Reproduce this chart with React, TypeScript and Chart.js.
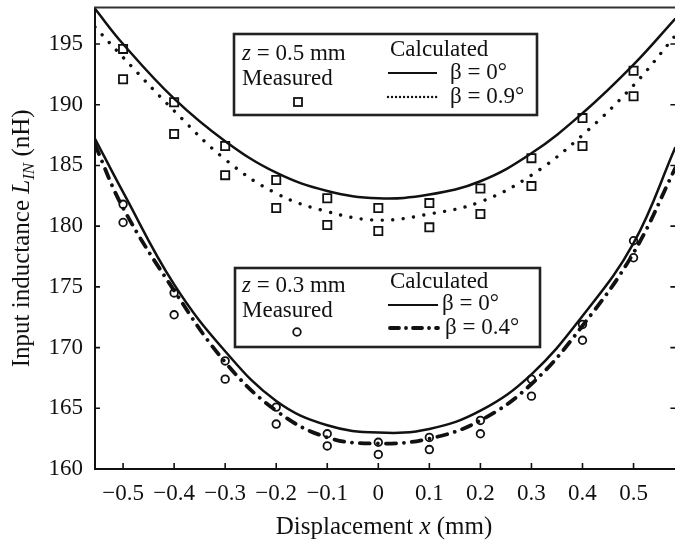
import React, { useEffect, useRef } from "react";
import { Chart, registerables } from "chart.js";

Chart.register(...registerables);

const FONT = '"Liberation Serif", "Times New Roman", serif';
const INK = "#111";

// Axis ranges and ticks
const xMin = -0.555;
const xMax = 0.582;
const yMin = 160;
const yMax = 198;
const xTicks = [-0.5, -0.4, -0.3, -0.2, -0.1, 0, 0.1, 0.2, 0.3, 0.4, 0.5];
const yTicks = [160, 165, 170, 175, 180, 185, 190, 195];

// Measured points (two measurements per displacement)
const measX = [-0.5, -0.4, -0.3, -0.2, -0.1, 0, 0.1, 0.2, 0.3, 0.4, 0.5];
const meas05a = [194.6, 190.2, 186.6, 183.8, 182.3, 181.5, 181.9, 183.1, 185.6, 188.9, 192.8];
const meas05b = [192.1, 187.6, 184.2, 181.5, 180.1, 179.6, 179.9, 181.0, 183.3, 186.6, 190.7];
const meas03a = [181.8, 174.5, 168.9, 165.1, 162.9, 162.2, 162.6, 164.0, 167.4, 171.9, 178.8];
const meas03b = [180.3, 172.7, 167.4, 163.7, 161.9, 161.2, 161.6, 162.9, 166.0, 170.6, 177.4];

// Calculated curves
const curveX = [-0.555, -0.5, -0.4, -0.3, -0.2, -0.1, 0, 0.1, 0.2, 0.3, 0.4, 0.5, 0.582];
const calc05b0 = [197.9, 195.0, 190.5, 187.0, 184.4, 182.9, 182.3, 182.6, 183.7, 186.0, 189.3, 193.3, 197.1];
const calc05b09 = [196.4, 193.9, 189.5, 185.5, 182.7, 181.2, 180.5, 181.0, 182.0, 184.2, 187.5, 191.6, 195.7];
const calc03b0 = [187.2, 182.8, 175.2, 169.7, 165.6, 163.6, 163.0, 163.3, 164.8, 167.8, 172.6, 178.6, 186.5];
const calc03b04 = [186.7, 181.5, 174.7, 168.8, 164.8, 162.6, 162.1, 162.5, 164.0, 167.0, 171.8, 177.8, 184.8];

const DOTTED = [0.01, 10.5];
const DASHDOT = [10, 8, 0.01, 8];

const PLOT_RIGHT = 675;

const pts = (xs: number[], ys: number[]) => xs.map((x, i) => ({ x, y: ys[i] }));

type Part = { t: string; italic?: boolean; sub?: boolean };

function drawRich(ctx: CanvasRenderingContext2D, parts: Part[], x: number, y: number, size: number, align: "left" | "center") {
  const fontOf = (p: Part) => `${p.italic ? "italic " : ""}${p.sub ? Math.round(size * 0.68) : size}px ${FONT}`;
  let total = 0;
  const widths = parts.map((p) => {
    ctx.font = fontOf(p);
    const w = ctx.measureText(p.t).width;
    total += w;
    return w;
  });
  let cx = align === "center" ? x - total / 2 : x;
  ctx.textBaseline = "middle";
  ctx.textAlign = "left";
  parts.forEach((p, i) => {
    ctx.font = fontOf(p);
    ctx.fillText(p.t, cx, p.sub ? y + size * 0.3 : y);
    cx += widths[i];
  });
}

export default function App() {
  const ref = useRef<HTMLCanvasElement>(null);

  useEffect(() => {
    const canvas = ref.current;
    if (!canvas) return;

    const fmt = (v: number) => (v === 0 ? "0" : v < 0 ? "\u2212" + Math.abs(v).toFixed(1) : v.toFixed(1));

    const decor = {
      id: "decor",
      afterDraw(chart: any) {
        const ctx: CanvasRenderingContext2D = chart.ctx;
        const { left, right, top, bottom } = chart.chartArea;
        const xs = chart.scales.x;
        const ys = chart.scales.y;
        ctx.save();
        ctx.strokeStyle = INK;
        ctx.fillStyle = INK;
        ctx.lineWidth = 1.6;
        ctx.setLineDash([]);
        // inward ticks
        ctx.beginPath();
        xTicks.forEach((v) => {
          const px = xs.getPixelForValue(v);
          ctx.moveTo(px, bottom);
          ctx.lineTo(px, bottom - 6);
        });
        yTicks.forEach((v) => {
          const py = ys.getPixelForValue(v);
          ctx.moveTo(left, py);
          ctx.lineTo(left + 5, py);
          ctx.moveTo(right, py);
          ctx.lineTo(right - 5, py);
        });
        ctx.stroke();
        // top frame
        ctx.lineWidth = 2;
        ctx.strokeStyle = "#333";
        ctx.beginPath();
        ctx.moveTo(left - 1, top);
        ctx.lineTo(right, top);
        ctx.stroke();

        // axis titles
        ctx.fillStyle = INK;
        drawRich(ctx, [{ t: "Displacement " }, { t: "x", italic: true }, { t: " (mm)" }], 384, 527, 25, "center");
        ctx.save();
        ctx.translate(22, (top + bottom) / 2);
        ctx.rotate(-Math.PI / 2);
        drawRich(
          ctx,
          [{ t: "Input inductance " }, { t: "L", italic: true }, { t: "IN", italic: true, sub: true }, { t: " (nH)" }],
          0,
          0,
          25,
          "center"
        );
        ctx.restore();

        // legend boxes
        const box = (x0: number, y0: number, x1: number, y1: number) => {
          ctx.save();
          ctx.strokeStyle = "#222";
          ctx.lineWidth = 2.6;
          ctx.setLineDash([]);
          ctx.strokeRect(x0, y0, x1 - x0, y1 - y0);
          ctx.restore();
        };
        const sample = (x0: number, x1: number, y: number, dash: number[], w: number) => {
          ctx.save();
          ctx.strokeStyle = INK;
          ctx.lineWidth = w;
          ctx.lineCap = dash.length ? "round" : "butt";
          ctx.setLineDash(dash);
          ctx.beginPath();
          ctx.moveTo(x0, y);
          ctx.lineTo(x1, y);
          ctx.stroke();
          ctx.restore();
        };
        const LS = 23;
        // box 1 : z = 0.5 mm
        box(234, 34, 537, 115);
        drawRich(ctx, [{ t: "z", italic: true }, { t: " = 0.5 mm" }], 242, 54, LS, "left");
        drawRich(ctx, [{ t: "Measured" }], 242, 79, LS, "left");
        ctx.save();
        ctx.strokeStyle = INK;
        ctx.lineWidth = 1.8;
        ctx.strokeRect(298 - 4, 102 - 4, 8, 8);
        ctx.restore();
        drawRich(ctx, [{ t: "Calculated" }], 390, 50, LS, "left");
        sample(388, 437, 73, [], 1.8);
        drawRich(ctx, [{ t: "\u03B2 = 0\u00B0" }], 450, 73, LS, "left");
        sample(388, 437, 97, [0.01, 4], 2.4);
        drawRich(ctx, [{ t: "\u03B2 = 0.9\u00B0" }], 450, 97, LS, "left");

        // box 2 : z = 0.3 mm
        box(235, 268, 540, 347);
        drawRich(ctx, [{ t: "z", italic: true }, { t: " = 0.3 mm" }], 242, 286, LS, "left");
        drawRich(ctx, [{ t: "Measured" }], 242, 311, LS, "left");
        ctx.save();
        ctx.strokeStyle = INK;
        ctx.lineWidth = 1.8;
        ctx.beginPath();
        ctx.arc(297, 332, 3.8, 0, Math.PI * 2);
        ctx.stroke();
        ctx.restore();
        drawRich(ctx, [{ t: "Calculated" }], 390, 282, LS, "left");
        sample(388, 438, 305, [], 1.8);
        drawRich(ctx, [{ t: "\u03B2 = 0\u00B0" }], 442, 304, LS, "left");
        sample(390, 438, 328, [9, 7, 0.01, 7], 3.8);
        drawRich(ctx, [{ t: "\u03B2 = 0.4\u00B0" }], 445, 328, LS, "left");

        ctx.restore();
      },
    };

    const curve = (label: string, ys: number[], dash: number[], width: number) => ({
      label,
      data: pts(curveX, ys),
      showLine: true,
      tension: 0.4,
      pointRadius: 0,
      borderColor: INK,
      borderWidth: width,
      borderDash: dash,
      borderCapStyle: dash.length ? "round" : "butt",
      fill: false,
    });
    const meas = (label: string, ys: number[], style: string, r: number) => ({
      label,
      data: pts(measX, ys),
      showLine: false,
      pointStyle: style,
      pointRadius: r,
      pointBorderWidth: 1.8,
      pointBorderColor: INK,
      pointBackgroundColor: "rgba(0,0,0,0)",
    });

    const chart = new Chart(canvas, {
      type: "scatter",
      data: {
        datasets: [
          curve("z=0.5 β=0°", calc05b0, [], 2.5),
          curve("z=0.5 β=0.9°", calc05b09, DOTTED, 3.4),
          curve("z=0.3 β=0°", calc03b0, [], 2.5),
          curve("z=0.3 β=0.4°", calc03b04, DASHDOT, 3.8),
          meas("Measured z=0.5 a", meas05a, "rect", 5.8),
          meas("Measured z=0.5 b", meas05b, "rect", 5.8),
          meas("Measured z=0.3 a", meas03a, "circle", 3.8),
          meas("Measured z=0.3 b", meas03b, "circle", 3.8),
        ] as any,
      },
      options: {
        animation: false,
        responsive: true,
        maintainAspectRatio: false,
        layout: { padding: { top: 5, right: 0, left: 0, bottom: 0 } },
        plugins: { legend: { display: false }, tooltip: { enabled: false } },
        scales: {
          x: {
            type: "linear",
            min: xMin,
            max: xMax,
            afterBuildTicks: (s: any) => {
              s.ticks = xTicks.map((v) => ({ value: v }));
            },
            afterFit: (s: any) => {
              s.height = 76;
              s.paddingLeft = 0;
              s.paddingRight = 0;
            },
            ticks: {
              callback: (v: any) => fmt(Number(v)),
              font: { family: FONT, size: 23 },
              color: INK,
              padding: 11,
              maxRotation: 0,
              autoSkip: false,
            },
            grid: { display: false, drawTicks: false },
            border: { display: true, width: 2, color: INK },
          },
          y: {
            type: "linear",
            min: yMin,
            max: yMax,
            afterBuildTicks: (s: any) => {
              s.ticks = yTicks.map((v) => ({ value: v }));
            },
            afterFit: (s: any) => {
              s.width = 95;
              s.paddingTop = 0;
              s.paddingBottom = 0;
            },
            ticks: {
              callback: (v: any) => String(v),
              font: { family: FONT, size: 23 },
              color: INK,
              padding: 12,
              autoSkip: false,
            },
            grid: { display: false, drawTicks: false },
            border: { display: true, width: 2, color: INK },
          },
        },
      } as any,
      plugins: [decor],
    });

    // widen the canvas just enough that the plot's right edge meets the window edge
    const gap = Math.round(chart.width - chart.chartArea.right - (chart.width - PLOT_RIGHT));
    if (gap > 0) {
      const inner = canvas.parentElement as HTMLElement;
      inner.style.width = `${675 + gap}px`;
      chart.resize(675 + gap, 545);
    }

    return () => chart.destroy();
  }, []);

  return (
    <div style={{ position: "absolute", left: 0, top: 0, width: 675, height: 545, overflow: "hidden", background: "#fff" }}>
      <div style={{ position: "relative", width: 675, height: 545 }}>
        <canvas ref={ref} />
      </div>
    </div>
  );
}
